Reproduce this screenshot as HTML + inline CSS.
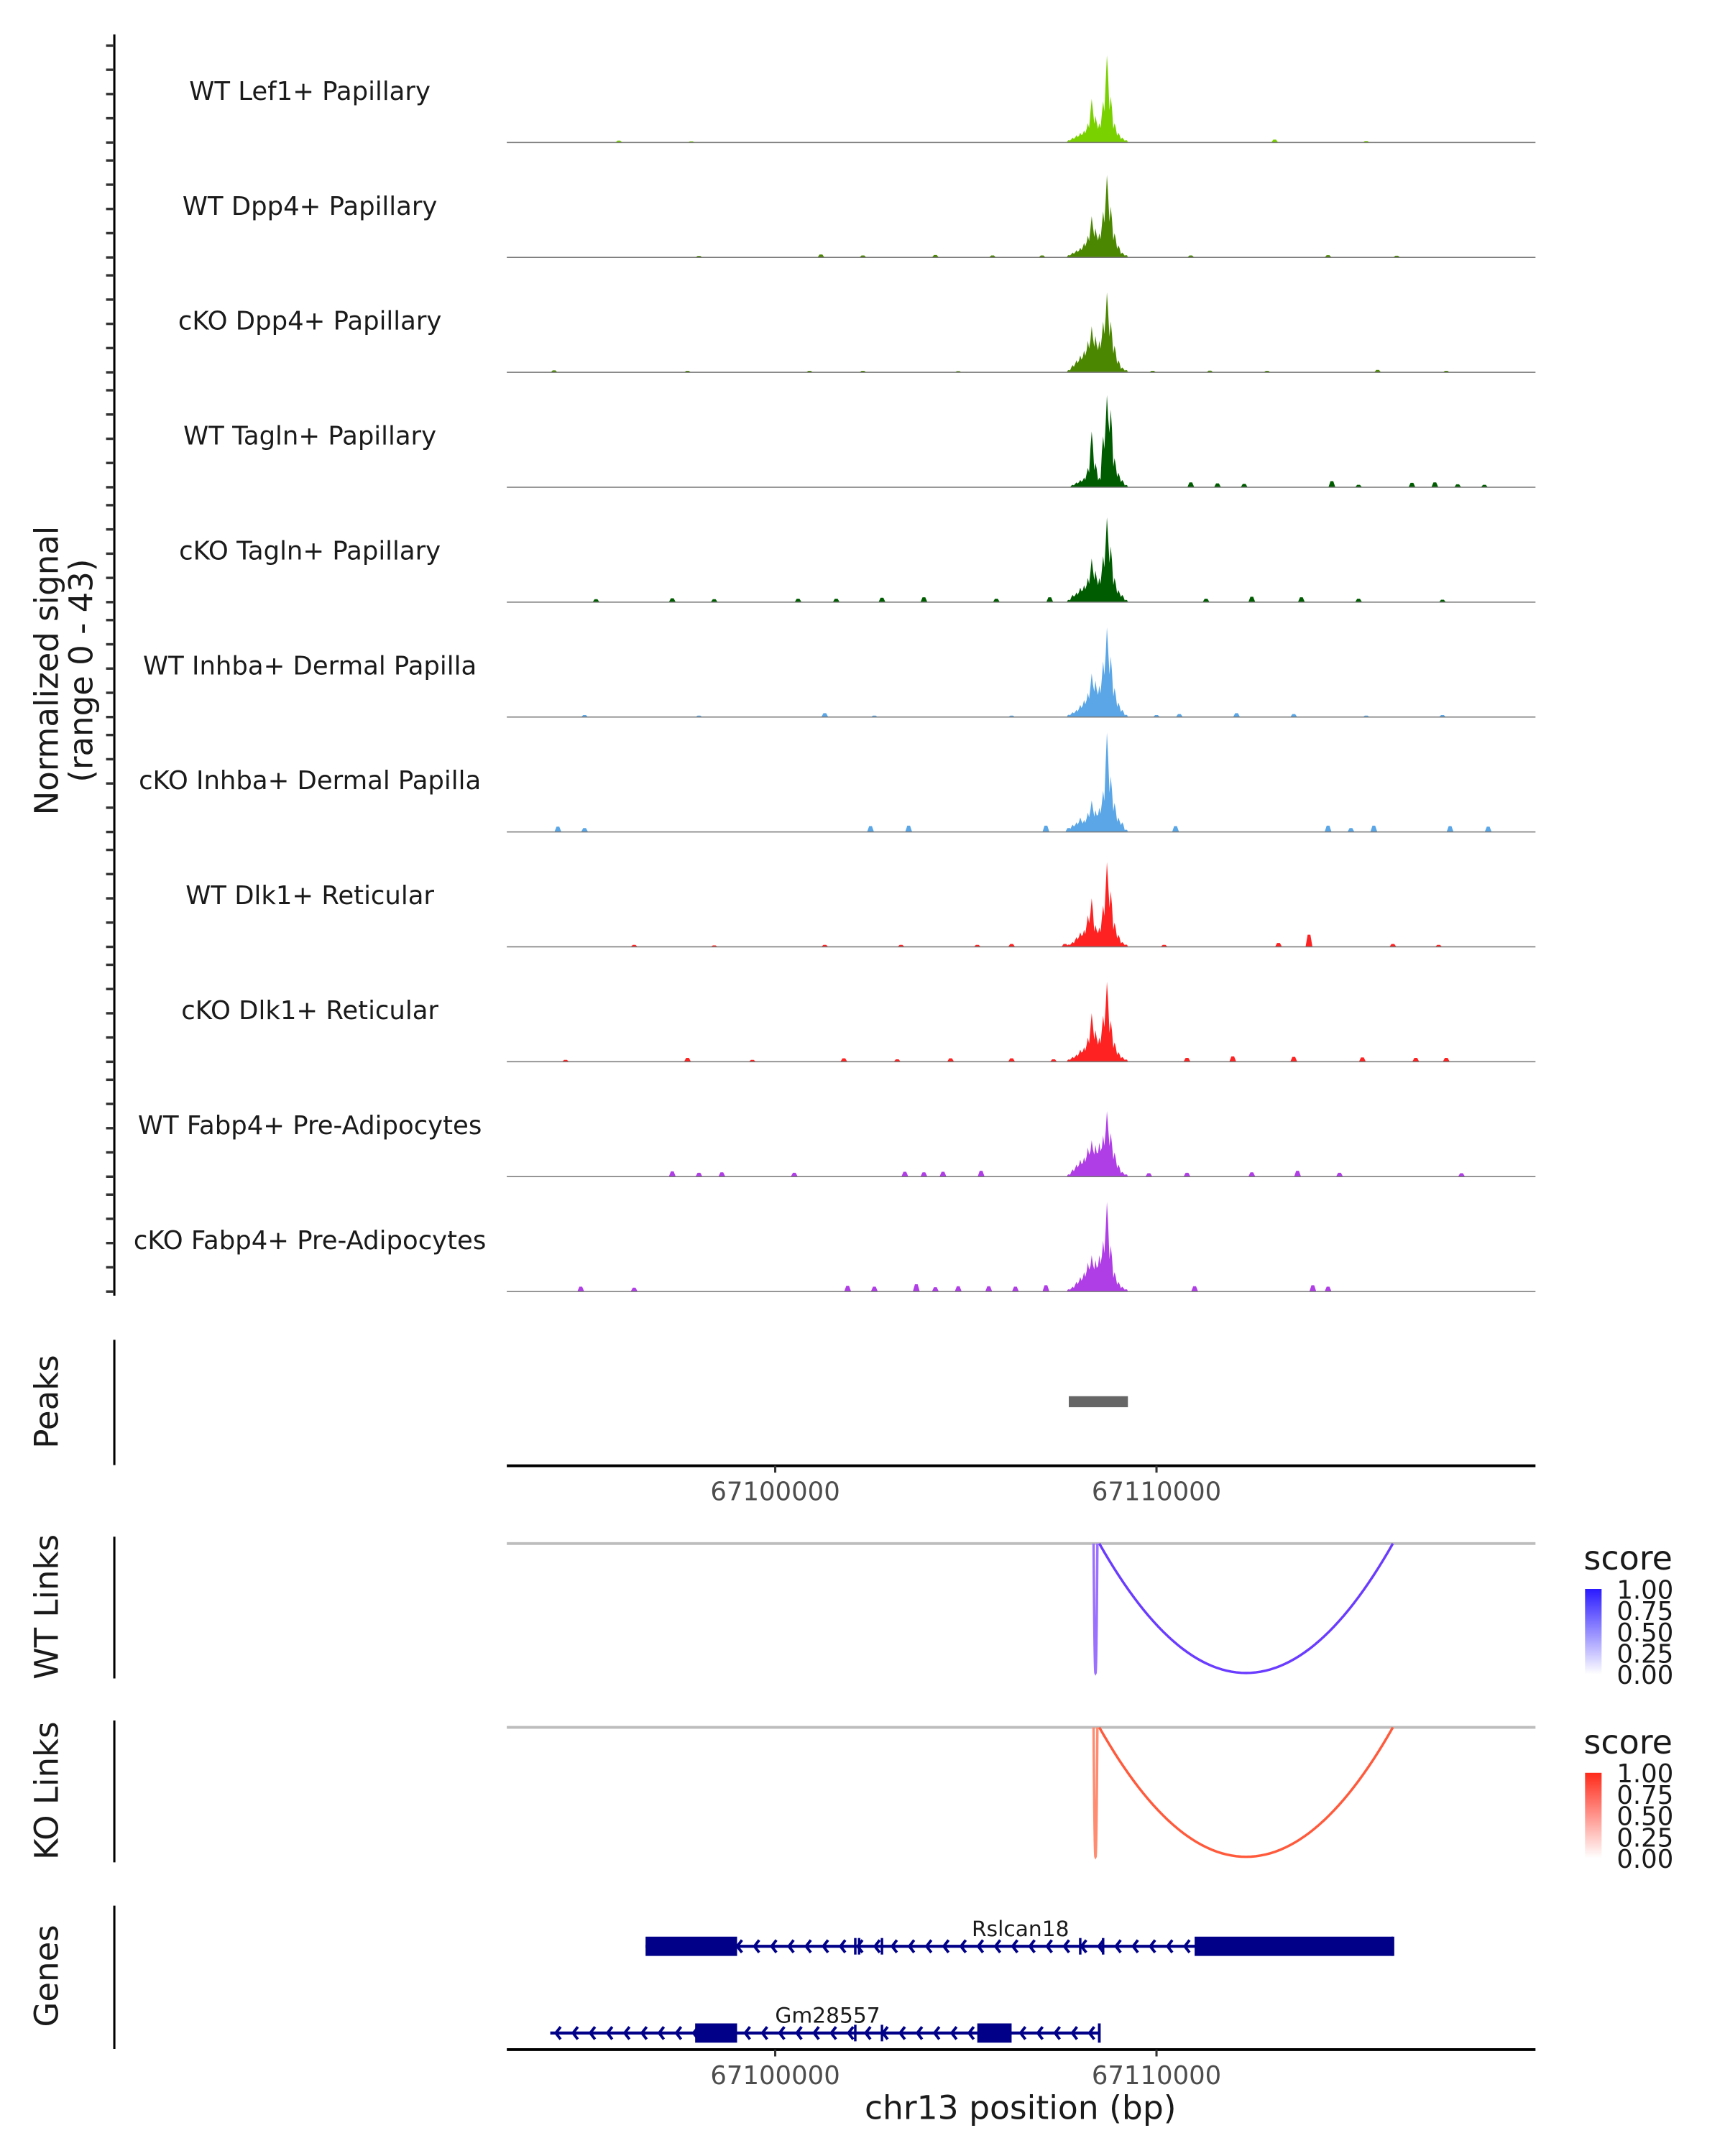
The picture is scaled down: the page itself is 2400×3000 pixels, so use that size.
<!DOCTYPE html>
<html><head><meta charset="utf-8"><style>
html,body{margin:0;padding:0;background:#fff;}
svg{display:block;font-family:"DejaVu Sans","Liberation Sans",sans-serif;}
</style></head><body>
<svg id="c" width="2400" height="3000" viewBox="0 0 1252.6 1565.8" xmlns="http://www.w3.org/2000/svg">
<g id="g"></g>
</svg>
<script>
// ---------- data ----------
const trackNames = ["WT Lef1+ Papillary","WT Dpp4+ Papillary","cKO Dpp4+ Papillary","WT Tagln+ Papillary","cKO Tagln+ Papillary","WT Inhba+ Dermal Papilla","cKO Inhba+ Dermal Papilla","WT Dlk1+ Reticular","cKO Dlk1+ Reticular","WT Fabp4+ Pre-Adipocytes","cKO Fabp4+ Pre-Adipocytes"];
const trackColors = ["#7ad100","#4b8700","#4b8700","#005c00","#005c00","#5aa6e6","#5aa6e6","#ff2222","#ff2222","#b03ee6","#b03ee6"];
const peakStart = 67107650; // first bin position (bp), bins of 100 bp
const peakT1 = [1,2,3,4,5,8,18,11,8,17,36,19,8,4,2,1];
const peakT2 = [1,2,3,4,6,9,17,12,10,19,34,21,10,5,2,1];
const peakT3 = [1,3,5,7,9,13,19,15,13,21,33,21,11,5,2,1];
const peakT4 = [0,1,2,3,4,8,23,10,4,21,38,32,12,6,3,1];
const peakT5 = [1,3,4,6,7,10,18,13,10,19,35,23,10,5,3,1];
const peakT6 = [1,2,3,5,7,10,18,15,13,23,37,25,12,6,3,1];
const peakT7 = [1,3,4,6,5,8,13,9,10,17,41,23,12,6,4,1];
const peakT8 = [1,2,4,6,7,13,20,9,8,17,35,23,10,5,2,1];
const peakT9 = [1,2,3,5,6,10,20,13,10,19,33,17,8,4,2,1];
const peakT10 = [1,3,5,7,8,12,15,13,14,17,27,18,10,5,2,1];
const peakT11 = [1,2,4,6,8,12,15,13,15,21,37,19,8,4,2,1];
const peaks = [peakT1,peakT2,peakT3,peakT4,peakT5,peakT6,peakT7,peakT8,peakT9,peakT10,peakT11];
// background spikes [position bp, value]
const bgT1 = [[67095900,0.8],[67097800,0.5],[67113100,1.2],[67115500,0.6]];
const bgT2 = [[67098000,0.6],[67101200,1.2],[67102300,0.8],[67104200,1.0],[67105700,0.8],[67107000,0.8],[67110900,0.8],[67114500,0.9],[67116300,0.7]];
const bgT3 = [[67094200,0.8],[67097700,0.6],[67100900,0.6],[67102300,0.6],[67104800,0.5],[67109900,0.6],[67111400,0.7],[67112900,0.6],[67115800,1.0],[67117600,0.6]];
const bgT4 = [[67110900,2.0],[67111600,1.6],[67112300,1.4],[67114600,2.5],[67115300,1.0],[67116700,1.8],[67117300,2.0],[67117900,1.2],[67118600,1.0]];
const bgT5 = [[67095300,1.2],[67097300,1.6],[67098400,1.2],[67100600,1.4],[67101600,1.4],[67102800,1.8],[67103900,2.0],[67105800,1.4],[67107200,2.0],[67111300,1.4],[67112500,2.2],[67113800,2.0],[67115300,1.4],[67117500,1.0]];
const bgT6 = [[67095000,0.8],[67098000,0.6],[67101300,1.6],[67102600,0.6],[67106200,0.6],[67110000,0.8],[67110600,1.2],[67112100,1.6],[67113600,1.2],[67115500,0.6],[67117500,0.8]];
const bgT7 = [[67094300,2.2],[67095000,1.6],[67102500,2.4],[67103500,2.6],[67107100,2.6],[67107700,1.6],[67108300,2.6],[67110500,2.4],[67114500,2.6],[67115100,1.6],[67115700,2.6],[67117700,2.4],[67118700,2.2]];
const bgT8 = [[67096300,0.8],[67098400,0.6],[67101300,0.8],[67103300,0.8],[67105300,0.8],[67106200,1.2],[67107600,1.2],[67110200,0.8],[67113200,1.6],[67114000,5.0],[67116200,1.2],[67117400,0.8]];
const bgT9 = [[67094500,0.8],[67097700,1.6],[67099400,0.8],[67101800,1.4],[67103200,1.0],[67104600,1.4],[67106200,1.4],[67107300,1.0],[67110800,1.6],[67112000,2.2],[67113600,2.0],[67115400,1.8],[67116800,1.6],[67117600,1.6]];
const bgT10 = [[67097300,2.2],[67098000,1.6],[67098600,1.8],[67100500,1.6],[67103400,2.0],[67103900,1.8],[67104400,2.0],[67105400,2.4],[67109800,1.4],[67110800,1.6],[67112500,1.8],[67113700,2.4],[67114800,1.6],[67118000,1.4]];
const bgT11 = [[67094900,2.0],[67096300,1.6],[67101900,2.4],[67102600,2.0],[67103700,3.0],[67104200,1.8],[67104800,2.2],[67105600,2.2],[67106300,2.0],[67107100,2.6],[67111000,2.2],[67114100,2.6],[67114500,2.0]];
const bgs = [bgT1,bgT2,bgT3,bgT4,bgT5,bgT6,bgT7,bgT8,bgT9,bgT10,bgT11];
const yTickVals = [0,10,20,30,40];
const xTicks = [67100000,67110000];
const peakRegion = [67107700,67109250];
const wtLinks = [[67108350,67108450,0.65],[67108500,67116200,0.85]];
const koLinks = [[67108350,67108450,0.6],[67108500,67116200,0.78]];
const legendTicks = ["1.00","0.75","0.50","0.25","0.00"];
const rslExons = [[67096600,67099000],[67111000,67116200]];
const rslMarks = [67102100,67102200,67102800,67108000,67108600];
const gmExons = [[67097900,67099000],[67105300,67106200]];
const gmMarks = [67102100,67102800];

// ---------- scales ----------
const X0 = 368, X1 = 1115, BP0 = 67092960, BP1 = 67119940;
const xs = bp => X0 + (bp - BP0) / (BP1 - BP0) * (X1 - X0);
const base0 = 103.5, trackH = 83.45, vmax = 43, pxMax = 75.7;
const ys = (v, b) => b - v / vmax * pxMax;

const NS = "http://www.w3.org/2000/svg";
const G = document.getElementById("g");
function mk(tag, attrs, parent){
  const e = document.createElementNS(NS, tag);
  for (const k in attrs) e.setAttribute(k, attrs[k]);
  (parent||G).appendChild(e); return e;
}
function txt(s, x, y, size, anchor, parent, rot){
  const t = mk("text", {x:x, y:y, "font-size":size, "text-anchor":anchor||"middle", fill:"#1a1a1a"}, parent);
  if (rot) t.setAttribute("transform", "rotate(-90 "+x+" "+y+")");
  t.textContent = s; return t;
}

// left axis for signal tracks
const ax = mk("g", {});


mk("line", {x1:83, y1:25, x2:83, y2:941, stroke:"#000", "stroke-width":1.6}, ax);
for (let i = 0; i < trackNames.length; i++) {
  const b = base0 + i * trackH;
  yTickVals.forEach(v => mk("line", {x1:77, y1:ys(v,b), x2:83, y2:ys(v,b), stroke:"#333", "stroke-width":1.8}, ax));
}
const yl1 = txt("Normalized signal", 42, 487, 23.5, "middle", ax, true);


const yl2 = txt("(range 0 - 43)", 67, 487, 23.5, "middle", ax, true);



// tracks
trackNames.forEach((name, i) => {
  const b = base0 + i * trackH;
  const tg = mk("g", {});
  
  
  const col = trackColors[i];
  bgs[i].forEach(([p, v]) => {
    const x = xs(p);
    const sp = mk("path", {d:`M${x-2.5},${b} L${x-1},${ys(v,b)} L${x+1},${ys(v,b)} L${x+2.5},${b} Z`, fill:col}, tg);
    
    
  });
  const arr = peaks[i];
  let d = `M${xs(peakStart)},${b}`;
  arr.forEach((v, k) => {
    const x = xs(peakStart + k * 100 + 50);
    d += ` L${x-0.9},${ys(v*0.7,b)} L${x},${ys(v,b)} L${x+0.9},${ys(v*0.75,b)}`;
  });
  d += ` L${xs(peakStart + arr.length*100)},${b} Z`;
  const pk = mk("path", {d:d, fill:col}, tg);
  
  
  mk("line", {x1:X0, y1:b, x2:X1, y2:b, stroke:"#777", "stroke-width":0.8}, tg);
  const l = txt(name, 225, b - 31, 18.5, "middle", tg);
  
  
});

// Peaks panel
const pg = mk("g", {});


mk("line", {x1:83, y1:973, x2:83, y2:1064, stroke:"#000", "stroke-width":1.6}, pg);
const pt = txt("Peaks", 42, 1018, 23.5, "middle", pg, true);


const pb = mk("rect", {x:xs(peakRegion[0]), y:1014, width:xs(peakRegion[1])-xs(peakRegion[0]), height:8, fill:"#666"}, pg);



function xAxis(y, name){
  const a = mk("g", {});
  
  
  mk("line", {x1:X0, y1:y, x2:X1, y2:y, stroke:"#000", "stroke-width":2}, a);
  xTicks.forEach(t => {
    mk("line", {x1:xs(t), y1:y, x2:xs(t), y2:y+5, stroke:"#333", "stroke-width":1.6}, a);
    const tl = mk("text", {x:xs(t), y:y+25, "font-size":18.5, "text-anchor":"middle", fill:"#4d4d4d"}, a);
    
    
    tl.textContent = t;
  });
}
xAxis(1064.5, 'peaks-x-axis');

// Links
function linksPanel(top, links, title, colHi, colLo, barTop, name){
  const lg = mk("g", {});
  
  
  mk("line", {x1:83, y1:top-5, x2:83, y2:top+98, stroke:"#000", "stroke-width":1.6}, lg);
  const t = txt(title, 42, top+46, 23.5, "middle", lg, true);
  
  
  mk("line", {x1:X0, y1:top, x2:X1, y2:top, stroke:"#bdbdbd", "stroke-width":2}, lg);
  const depth = 94;
  links.forEach(([s, e, sc]) => {
    const x1 = xs(s), x2 = xs(e);
    let d = "";
    for (let k = 0; k <= 60; k++) {
      const u = k / 60, x = x1 + (x2 - x1) * u;
      d += (k ? " L" : "M") + x.toFixed(2) + "," + (top + depth * (1 - Math.pow(2*u-1, 2))).toFixed(2);
    }
    const p = mk("path", {d:d, fill:"none", stroke:sc > 0.7 ? colHi : colLo, "stroke-width":1.8}, lg);
    
    
  });
  const leg = mk("g", {}, lg);
  
  
  txt("score", 1150, top+19, 24, "start", leg);
  const gid = "grad" + name;
  const defs = mk("defs", {}, leg);
  const gr = mk("linearGradient", {id:gid, x1:0, y1:0, x2:0, y2:1}, defs);
  mk("stop", {offset:"0", "stop-color":barTop}, gr);
  mk("stop", {offset:"1", "stop-color":"#ffffff"}, gr);
  mk("rect", {x:1151, y:top+33, width:12, height:62, fill:`url(#${gid})`}, leg);
  legendTicks.forEach((s, k) => {
    const tt = txt(s, 1174, top + 40 + k * 15.5, 18.5, "start", leg);
    
    
  });
}
linksPanel(1121, wtLinks, "WT Links", "#6a3cff", "#9c70ff", "#2a1aff", "wt-links-panel");
linksPanel(1254.5, koLinks, "KO Links", "#ff5a3c", "#ff8c70", "#ff2a1a", "ko-links-panel");

// Genes
const gg = mk("g", {});


mk("line", {x1:83, y1:1384, x2:83, y2:1488, stroke:"#000", "stroke-width":1.6}, gg);
const gt = txt("Genes", 42, 1435, 23.5, "middle", gg, true);


function gene(name, s, e, exons, marks, y, lx){
  const g = mk("g", {}, gg);
  
  
  const xa = xs(s), xb = xs(e), C = "#000088";
  mk("line", {x1:xa, y1:y, x2:xb, y2:y, stroke:C, "stroke-width":2.2}, g);
  for (let x = xa + 4; x < xb - 6; x += 12.5) {
    mk("path", {d:`M${x+3.5},${y-4.5} L${x},${y} L${x+3.5},${y+4.5}`, fill:"none", stroke:C, "stroke-width":2}, g);
  }
  marks.forEach(m => mk("line", {x1:xs(m), y1:y-6, x2:xs(m), y2:y+6, stroke:C, "stroke-width":1.8}, g));
  mk("line", {x1:xb, y1:y-7, x2:xb, y2:y+7, stroke:C, "stroke-width":2}, g);
  exons.forEach(([a, b]) => {
    const r = mk("rect", {x:xs(a), y:y-7, width:xs(b)-xs(a), height:14, fill:C}, g);
    
    
  });
  const l = txt(name, lx, y - 7.5, 15.5, "middle", g);
  
  
}
gene("Rslcan18", 67096600, 67116200, rslExons, rslMarks, 1413.5, 741);
gene("Gm28557", 67094100, 67108500, gmExons, gmMarks, 1476.5, 601);

xAxis(1488.5, 'genes-x-axis');
const xt = txt("chr13 position (bp)", 741, 1539, 23.8, "middle");


</script>
</body></html>
